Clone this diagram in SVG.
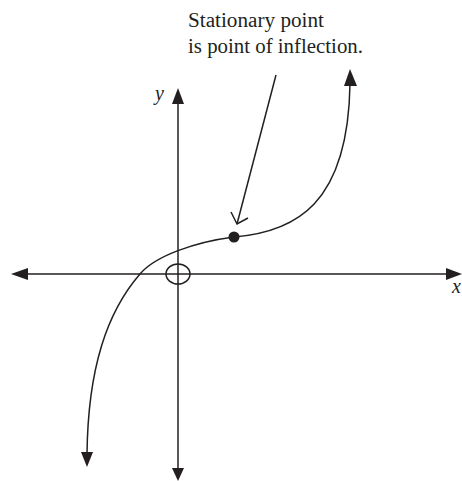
<svg xmlns="http://www.w3.org/2000/svg" width="462" height="481" viewBox="0 0 462 481">
<style>
.ln{fill:none;stroke:#231f20;stroke-width:1.5}
.ah{fill:#231f20;stroke:none}
.t{font-family:"Liberation Serif","Times New Roman",serif;font-size:20px;fill:#231f20}
.it{font-style:italic}
</style>
<rect width="462" height="481" fill="#fff"/>
<g id="axes">
<line class="ln" x1="178" y1="102" x2="178" y2="471"/>
<polygon class="ah" points="178,88 172,104 184,104"/>
<polygon class="ah" points="178,481 172,468 184,468"/>
<line class="ln" x1="26" y1="274" x2="449" y2="274"/>
<polygon class="ah" points="11,274 28,268 28,280"/>
<polygon class="ah" points="462,274 446,268 446,280"/>
<ellipse class="ln" cx="178" cy="274" rx="12" ry="10"/>
<text class="t it" x="155" y="100">y</text>
<text class="t it" x="452" y="293">x</text>
</g>
<g id="curve">
<path class="ln" d="M87,454 C88,368 107,312 140,274 C155,256 195,242 234,237 C295,232 348,205 350,84"/>
<polygon class="ah" points="87,467 81,452 93,452"/>
<polygon class="ah" points="350,69 344,86 357,86"/>
<circle cx="234" cy="237" r="5.5" fill="#231f20"/>
</g>
<g id="label">
<text class="t" x="188" y="27" textLength="136" lengthAdjust="spacingAndGlyphs">Stationary point</text>
<text class="t" x="188" y="53" textLength="175" lengthAdjust="spacingAndGlyphs">is point of inflection.</text>
</g>
<g id="connectors">
<line class="ln" x1="276" y1="75" x2="237" y2="224"/>
<polyline class="ln" points="231,212 237,224 248,218"/>
</g>
</svg>
